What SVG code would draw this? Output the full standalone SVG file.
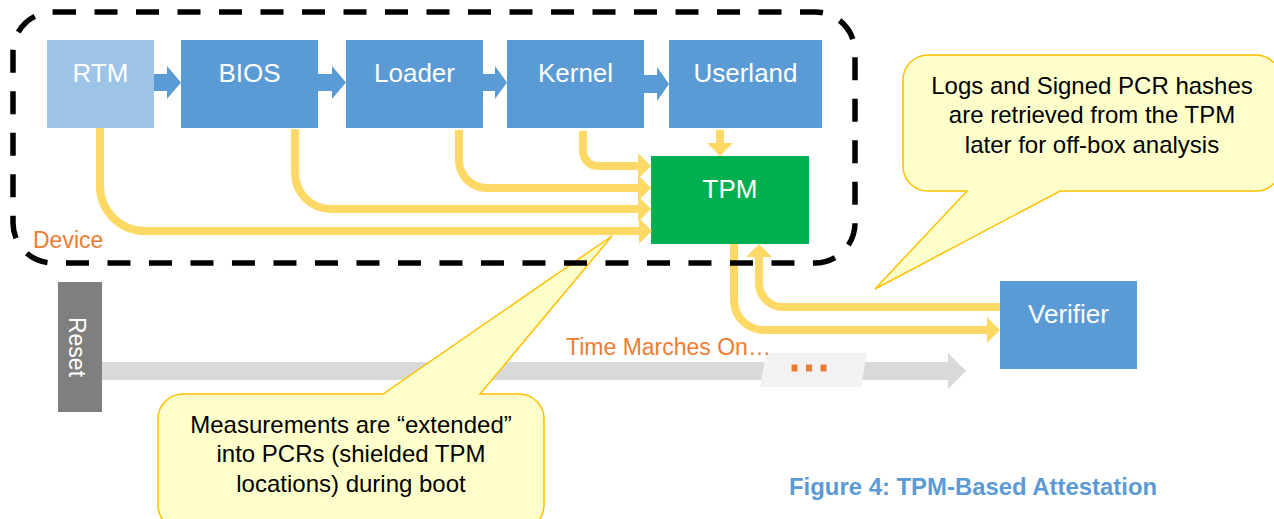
<svg xmlns="http://www.w3.org/2000/svg" width="1274" height="519" viewBox="0 0 1274 519">
<style>
  .box { fill: #5B9BD5; }
  .lbl { font-family: "Liberation Sans", Arial, sans-serif; font-size: 26px; fill: #FFFFFF; text-anchor: middle; }
  .blk { fill: #5B9BD5; }
  .conn { fill: none; stroke: #FFD966; stroke-width: 8; }
  .callout { fill: #FFFFCC; stroke: #FFC000; stroke-width: 1.5; }
  .ctext { font-family: "Liberation Sans", Arial, sans-serif; font-size: 24px; fill: #000000; text-anchor: middle; }
  .orange { font-family: "Liberation Sans", Arial, sans-serif; font-size: 23px; fill: #ED7D31; }
</style>
<defs>
  <marker id="ah" markerUnits="userSpaceOnUse" markerWidth="14" markerHeight="26" refX="0" refY="13" orient="auto" viewBox="0 0 14 26">
    <path d="M0,0 L13,13 L0,26 Z" fill="#FFD966"/>
  </marker>
</defs>

<!-- time bar -->
<g id="timeline">
  <polygon points="102,362 948,362 948,353 966,371 948,389 948,380 102,380" fill="#D9D9D9"/>
  <polygon points="766,353 867,353 861,387 760,387" fill="#F2F2F2"/>
  <rect x="791.5" y="364.5" width="6" height="7" fill="#ED7D31"/>
  <rect x="806" y="364.5" width="6" height="7" fill="#ED7D31"/>
  <rect x="820.5" y="364.5" width="6" height="7" fill="#ED7D31"/>
  <text class="orange" x="566" y="355">Time Marches On…</text>
</g>

<g id="reset">
  <rect x="58" y="282" width="44" height="130" fill="#7F7F7F"/>
  <text transform="translate(77,347) rotate(90)" x="0" y="8" font-family="Liberation Sans, Arial, sans-serif" font-size="23" fill="#FFFFFF" text-anchor="middle">Reset</text>
</g>

<!-- block arrows between boot stages -->
<g id="stage-arrows">
  <polygon class="blk" points="154,74 167,74 167,66 181,82.5 167,99 167,91 154,91"/>
  <polygon class="blk" points="318,74 332,74 332,66 346,82.5 332,99 332,91 318,91"/>
  <polygon class="blk" points="483,74 495,74 495,66 507,82.5 495,99 495,91 483,91"/>
  <polygon class="blk" points="644,75 657,75 657,67 669,84 657,101 657,93 644,93"/>
</g>

<g id="rtm"><rect x="47" y="40" width="107" height="88" fill="#9DC3E6"/><text class="lbl" x="100.5" y="82">RTM</text></g>
<g id="bios"><rect class="box" x="181" y="40" width="137" height="88"/><text class="lbl" x="249.5" y="82">BIOS</text></g>
<g id="loader"><rect class="box" x="346" y="40" width="137" height="88"/><text class="lbl" x="414.5" y="82">Loader</text></g>
<g id="kernel"><rect class="box" x="507" y="40" width="137" height="88"/><text class="lbl" x="575.5" y="82">Kernel</text></g>
<g id="userland"><rect class="box" x="669" y="40" width="153" height="88"/><text class="lbl" x="745.5" y="82">Userland</text></g>
<g id="tpm"><rect x="651" y="156" width="158" height="88" fill="#00B050"/><text class="lbl" x="730" y="198">TPM</text></g>
<g id="verifier"><rect class="box" x="1000" y="281" width="137" height="88"/><text class="lbl" x="1068.5" y="323">Verifier</text></g>

<g id="connectors">
  <path class="conn" d="M100,128 V186 A45,45 0 0 0 145,231 H639" marker-end="url(#ah)"/>
  <path class="conn" d="M295,129 V173 A36,36 0 0 0 331,209 H638" marker-end="url(#ah)"/>
  <path class="conn" d="M459,130 V160 A28,28 0 0 0 487,188 H638" marker-end="url(#ah)"/>
  <path class="conn" d="M583,131 V151 A15,15 0 0 0 598,166 H638" marker-end="url(#ah)"/>
  <path class="conn" d="M720,130 V143" marker-end="url(#ah)"/>
  <path class="conn" d="M734,244 V300 A30,30 0 0 0 764,330 H987" marker-end="url(#ah)"/>
  <path class="conn" d="M1000,307 H783 A24,24 0 0 1 759,283 V257" marker-end="url(#ah)"/>
</g>

<g id="callout-measure">
  <path class="callout" d="M183,394 H383 L612,236 L480,394 H519 A25,25 0 0 1 544,419 V505 A25,25 0 0 1 519,530 H183 A25,25 0 0 1 158,505 V419 A25,25 0 0 1 183,394 Z"/>
  <text class="ctext" x="351" y="433">Measurements are “extended”</text>
  <text class="ctext" x="351" y="462">into PCRs (shielded TPM</text>
  <text class="ctext" x="351" y="492">locations) during boot</text>
</g>

<g id="callout-logs">
  <path class="callout" d="M928,55 H1256 A25,25 0 0 1 1281,80 V166 A25,25 0 0 1 1256,191 H1060 L875,289 L967,191 H928 A25,25 0 0 1 903,166 V80 A25,25 0 0 1 928,55 Z"/>
  <text class="ctext" x="1092" y="94">Logs and Signed PCR hashes</text>
  <text class="ctext" x="1092" y="123">are retrieved from the TPM</text>
  <text class="ctext" x="1092" y="153">later for off-box analysis</text>
</g>

<g id="device">
  <rect x="13" y="12" width="842" height="251" rx="40" ry="40" fill="none" stroke="#000000" stroke-width="5.5" stroke-dasharray="23 18.5"/>
  <text class="orange" x="33" y="248">Device</text>
</g>

<text id="caption" x="789" y="495" font-family="Liberation Sans, Arial, sans-serif" font-size="23.9" font-weight="bold" fill="#5B9BD5">Figure 4: TPM-Based Attestation</text>
</svg>
